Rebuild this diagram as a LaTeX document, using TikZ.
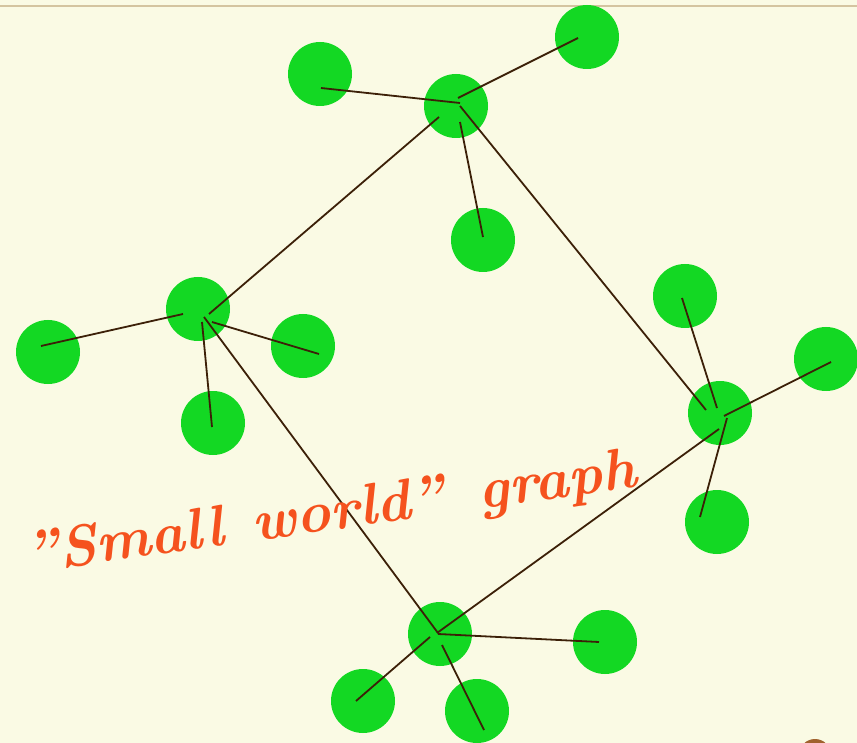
\documentclass[tikz,border=0pt]{standalone}
\definecolor{paper}{RGB}{250,250,228}
\definecolor{rulebeige}{RGB}{212,196,160}
\definecolor{nodegreen}{RGB}{19,216,35}
\definecolor{linkbrown}{RGB}{60,32,8}
\definecolor{inkorange}{RGB}{245,82,30}
\definecolor{cornerbrown}{RGB}{160,98,46}
\begin{document}
\begin{tikzpicture}[x=1pt,y=-1pt,
    dot/.style={circle,fill=nodegreen,minimum size=64pt,inner sep=0pt},
    link/.style={draw=linkbrown,line width=1.8pt}]
    \useasboundingbox (0,0) rectangle (857,743);
    \clip (0,0) rectangle (857,743);
    \fill[paper] (0,0) rectangle (857,743);
    \draw[rulebeige,line width=2.5pt] (0,6) -- (857,6);
    \fill[cornerbrown] (815,755) circle (16pt);
    % Hubs
    \node[dot] (hubT) at (456,106) {};
    \node[dot] (hubL) at (198,309) {};
    \node[dot] (hubR) at (720,413) {};
    \node[dot] (hubB) at (440,634) {};
    % Leaves round each hub
    \foreach \n/\x/\y in {tA/320/74, tB/587/37, tC/483/240,
                          lA/48/352, lB/303/346, lC/213/423,
                          rA/685/296, rB/826/359, rC/717/522,
                          bA/605/642, bB/363/701, bC/477/711} {
      \node[dot] (\n) at (\x,\y) {};
    }
    % Spokes of the top hub
    \draw[link] ([shift={(4,-3)}]hubT.center) -- ([shift={(1,14)}]tA.center);
    \draw[link] ([shift={(2,-8)}]hubT.center) -- ([shift={(-9,1)}]tB.center);
    \draw[link] ([shift={(4,16)}]hubT.center) -- ([shift={(0,-3)}]tC.center);
    % Spokes of the left hub
    \draw[link] ([shift={(-15,5)}]hubL.center) -- ([shift={(-7,-6)}]lA.center);
    \draw[link] ([shift={(14,13)}]hubL.center) -- ([shift={(16,8)}]lB.center);
    \draw[link] ([shift={(4,13)}]hubL.center) -- ([shift={(-1,4)}]lC.center);
    % Spokes of the right hub
    \draw[link] ([shift={(-3,-5)}]hubR.center) -- ([shift={(-3,2)}]rA.center);
    \draw[link] ([shift={(4,3)}]hubR.center) -- ([shift={(5,3)}]rB.center);
    \draw[link] ([shift={(7,5)}]hubR.center) -- ([shift={(-17,-5)}]rC.center);
    % Spokes of the bottom hub
    \draw[link] ([shift={(-2,0)}]hubB.center) -- ([shift={(-6,0)}]bA.center);
    \draw[link] ([shift={(-10,3)}]hubB.center) -- ([shift={(-7,0)}]bB.center);
    \draw[link] ([shift={(2,11)}]hubB.center) -- ([shift={(7,19)}]bC.center);
    % Long links between the hubs
    \draw[link] ([shift={(-17,11)}]hubT.center) -- ([shift={(11,5)}]hubL.center);
    \draw[link] ([shift={(4,0)}]hubT.center) -- ([shift={(-14,-3)}]hubR.center);
    \draw[link] ([shift={(6,8)}]hubL.center) -- ([shift={(-2,-1)}]hubB.center);
    \draw[link] ([shift={(-1,16)}]hubR.center) -- ([shift={(-3,-1)}]hubB.center);
    % Caption
    \node[text=inkorange,font=\bfseries\itshape\fontsize{58}{58}\selectfont,rotate=8,anchor=base]
      (caption) at (333,530) {"Small\hspace{0.5em}world"\hspace{0.6em}graph};
\end{tikzpicture}
\end{document}
